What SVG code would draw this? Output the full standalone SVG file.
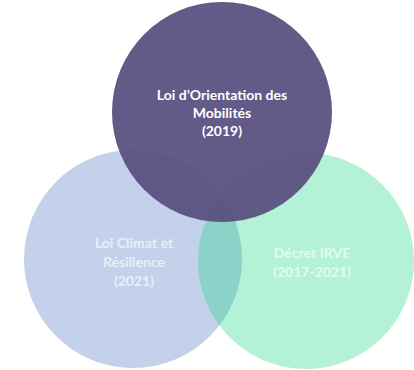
<svg xmlns="http://www.w3.org/2000/svg" width="414" height="370" viewBox="0 0 414 370">
  <style>
    .label { font-family: Lato, "Open Sans", "Liberation Sans", sans-serif; font-weight: bold; font-size: 14px; text-anchor: middle; }
    .lom { fill: #ffffff; }
    .climat { fill: #e9eef8; }
    .irve { fill: #e4fbf1; }
  </style>
  <rect width="414" height="370" fill="#ffffff"/>

  <g id="loi-climat">
    <circle cx="133" cy="259" r="109" fill="#c4d1ea"/>
  </g>

  <g id="decret-irve">
    <circle cx="306" cy="261" r="108" fill="#18d782" fill-opacity="0.33"/>
  </g>

  <g id="lom">
    <circle cx="222" cy="112" r="110" fill="#58507f" fill-opacity="0.94"/>
  </g>

  <g id="labels">
    <text class="label lom" x="222" y="100">Loi d’Orientation des</text>
    <text class="label lom" x="222" y="118">Mobilités</text>
    <text class="label lom" x="222" y="136">(2019)</text>

    <text class="label climat" x="134" y="248">Loi Climat et</text>
    <text class="label climat" x="134" y="267">Résilience</text>
    <text class="label climat" x="134" y="286">(2021)</text>

    <text class="label irve" x="312" y="258">Décret IRVE</text>
    <text class="label irve" x="312" y="277">(2017-2021)</text>
  </g>
</svg>
